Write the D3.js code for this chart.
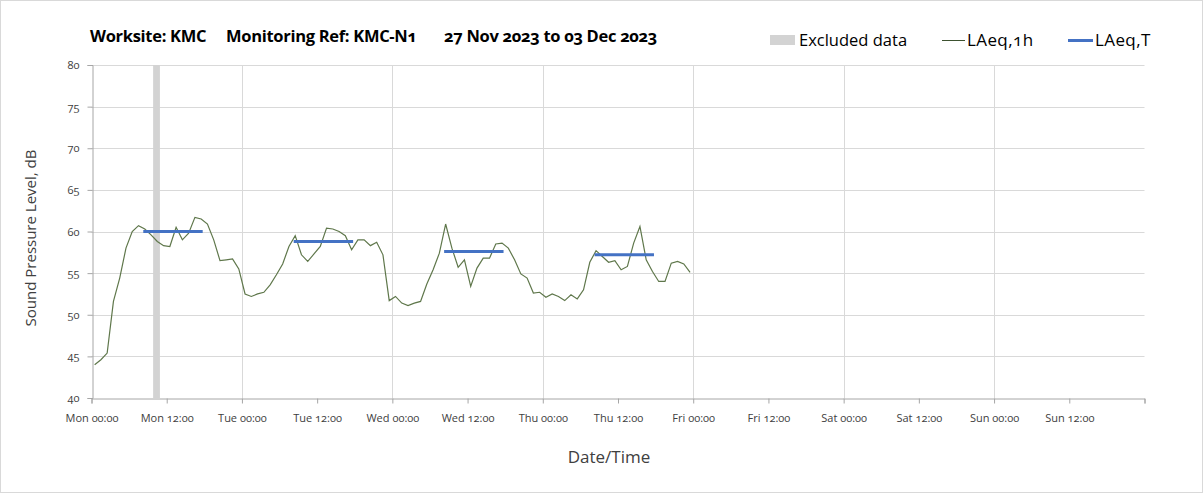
<!DOCTYPE html>
<html>
<head>
<meta charset="utf-8">
<script src="https://cdn.jsdelivr.net/npm/d3@7"></script>
<style>
  html, body { margin: 0; padding: 0; background: #fff; }
  svg { display: block; }
  text { font-family: "Open Sans", "Noto Sans", sans-serif; font-feature-settings: "onum"; }
</style>
</head>
<body>
<svg id="chart" width="1203" height="493"></svg>
<script>
// ---- data ----
const titleParts = ["Worksite: KMC", "Monitoring Ref: KMC-N1", "27 Nov 2023 to 03 Dec 2023"];
const firstHour = "2023-11-27T00:30:00"; // first hourly value, plotted at mid-hour
const laeq1h = [
  44.0, 44.6, 45.4, 51.6, 54.4, 58.0, 60.0, 60.7, 60.3, 59.6, 58.8, 58.3,
  58.2, 60.5, 59.0, 59.8, 61.7, 61.5, 60.9, 59.0, 56.5, 56.6, 56.7, 55.5,
  52.5, 52.2, 52.5, 52.7, 53.6, 54.8, 56.1, 58.2, 59.5, 57.2, 56.4, 57.3,
  58.2, 60.4, 60.3, 60.0, 59.5, 57.8, 59.0, 59.0, 58.3, 58.7, 57.2, 51.7,
  52.2, 51.4, 51.1, 51.4, 51.6, 53.7, 55.4, 57.4, 60.9, 58.0, 55.7, 56.6,
  53.4, 55.6, 56.8, 56.8, 58.5, 58.6, 58.0, 56.6, 54.9, 54.4, 52.6, 52.7,
  52.1, 52.5, 52.2, 51.7, 52.4, 51.9, 53.0, 56.3, 57.7, 57.0, 56.3, 56.5,
  55.4, 55.8, 58.6, 60.6, 56.6, 55.2, 54.0, 54.0, 56.2, 56.4, 56.1, 55.1
];
const laeqTPeriods = [
  { start: "2023-11-27T08:30:00", end: "2023-11-27T17:30:00", value: 60.0 },
  { start: "2023-11-28T08:30:00", end: "2023-11-28T17:30:00", value: 58.8 },
  { start: "2023-11-29T08:30:00", end: "2023-11-29T17:30:00", value: 57.6 },
  { start: "2023-11-30T08:30:00", end: "2023-11-30T17:30:00", value: 57.2 }
];
const excluded = [ { start: "2023-11-27T09:50:00", end: "2023-11-27T10:55:00" } ];
const xDomain = ["2023-11-27T00:00:00", "2023-12-04T00:00:00"];
const yDomain = [40, 80];
const yTicks = [40, 45, 50, 55, 60, 65, 70, 75, 80];
const legendItems = ["Excluded data", "LAeq,1h", "LAeq,T"];

// ---- layout ----
const svg = d3.select("#chart");
const W = 1203, H = 493;
const m = { left: 91.5, right: 1144.5, top: 65, bottom: 398 };
const parse = s => new Date(s);
const x = d3.scaleTime().domain(xDomain.map(parse)).range([m.left, m.right]);
const y = d3.scaleLinear().domain(yDomain).range([m.bottom, m.top]);

const t0 = parse(firstHour);
const series = laeq1h.map((v, i) => ({ t: d3.timeHour.offset(t0, i), v }));

svg.append("rect").attr("x", 0.5).attr("y", 0.5).attr("width", W - 1).attr("height", H - 1)
  .attr("fill", "#fff").attr("stroke", "#d9d9d9");

// gridlines
svg.append("g").selectAll("line").data(yTicks.slice(1)).join("line")
  .attr("x1", m.left).attr("x2", m.right)
  .attr("y1", d => Math.round(y(d)) + 0.5).attr("y2", d => Math.round(y(d)) + 0.5)
  .attr("stroke", "#d9d9d9").attr("stroke-width", 1);
const dayTicks = d3.timeDay.range(x.domain()[0], x.domain()[1]).slice(1);
svg.append("g").selectAll("line").data(dayTicks).join("line")
  .attr("x1", d => Math.round(x(d)) + 0.5).attr("x2", d => Math.round(x(d)) + 0.5)
  .attr("y1", m.top).attr("y2", m.bottom)
  .attr("stroke", "#d9d9d9").attr("stroke-width", 1);

// excluded
svg.append("g").selectAll("rect").data(excluded).join("rect")
  .attr("x", d => x(parse(d.start))).attr("width", d => x(parse(d.end)) - x(parse(d.start)))
  .attr("y", m.top).attr("height", m.bottom - m.top).attr("fill", "#d3d3d3");

// axes
const yAxis = d3.axisLeft(y).tickValues(yTicks).tickSize(5).tickPadding(8).tickFormat(d3.format("d"));
const gy = svg.append("g").attr("transform", `translate(${Math.round(m.left) + 0.5},0)`).call(yAxis);
gy.select(".domain").attr("stroke", "#a6a6a6");
gy.selectAll(".tick line").attr("stroke", "#a6a6a6");
gy.selectAll(".tick text").attr("font-size", 11).attr("fill", "#404040");

const xTicks = d3.timeHour.every(12).range(x.domain()[0], d3.timeHour.offset(x.domain()[1], 1));
const xAxis = d3.axisBottom(x).tickValues(xTicks).tickSize(5).tickPadding(11)
  .tickFormat(d => d.getTime() === x.domain()[1].getTime() ? "" : d3.timeFormat("%a %H:%M")(d));
const gx = svg.append("g").attr("transform", `translate(0,${m.bottom + 0.5})`).call(xAxis);
gx.select(".domain").attr("stroke", "#a6a6a6");
gx.selectAll(".tick line").attr("stroke", "#a6a6a6");
gx.selectAll(".tick text").attr("font-size", 11).attr("fill", "#404040");

// LAeq,1h line
svg.append("path").datum(series)
  .attr("d", d3.line().x(d => x(d.t)).y(d => y(d.v)))
  .attr("fill", "none").attr("stroke", "#5f774b").attr("stroke-width", 1.2);

// LAeq,T lines
svg.append("g").selectAll("line").data(laeqTPeriods).join("line")
  .attr("x1", d => x(parse(d.start))).attr("x2", d => x(parse(d.end)))
  .attr("y1", d => y(d.value)).attr("y2", d => y(d.value))
  .attr("stroke", "#4472c4").attr("stroke-width", 3).attr("stroke-linecap", "square");

// title
const titleX = [90, 226, 444];
svg.append("g").selectAll("text").data(titleParts).join("text")
  .attr("x", (d, i) => titleX[i]).attr("y", 42).attr("font-size", 16.5).attr("font-weight", "bold")
  .attr("fill", "#000").attr("letter-spacing", -0.3).text(d => d);

// legend
const lg = svg.append("g");
lg.append("rect").attr("x", 770).attr("y", 35).attr("width", 25).attr("height", 10).attr("fill", "#d3d3d3");
lg.append("text").attr("x", 799).attr("y", 46).attr("font-size", 16.5).attr("fill", "#000").text(legendItems[0]);
lg.append("line").attr("x1", 942).attr("x2", 965).attr("y1", 40.5).attr("y2", 40.5)
  .attr("stroke", "#3d5230").attr("stroke-width", 1);
lg.append("text").attr("x", 967).attr("y", 46).attr("font-size", 17).attr("letter-spacing", 0.4).attr("fill", "#000").text(legendItems[1]);
lg.append("line").attr("x1", 1068).attr("x2", 1093).attr("y1", 40.5).attr("y2", 40.5)
  .attr("stroke", "#4472c4").attr("stroke-width", 3);
lg.append("text").attr("x", 1095).attr("y", 46).attr("font-size", 17).attr("letter-spacing", 0.4).attr("fill", "#000").text(legendItems[2]);

// axis titles
svg.append("text").attr("transform", "translate(36,238) rotate(-90)").attr("text-anchor", "middle")
  .attr("font-size", 15).attr("fill", "#404040").text("Sound Pressure Level, dB");
svg.append("text").attr("x", 609).attr("y", 463).attr("text-anchor", "middle")
  .attr("font-size", 17).attr("fill", "#404040").text("Date/Time");
</script>
</body>
</html>
